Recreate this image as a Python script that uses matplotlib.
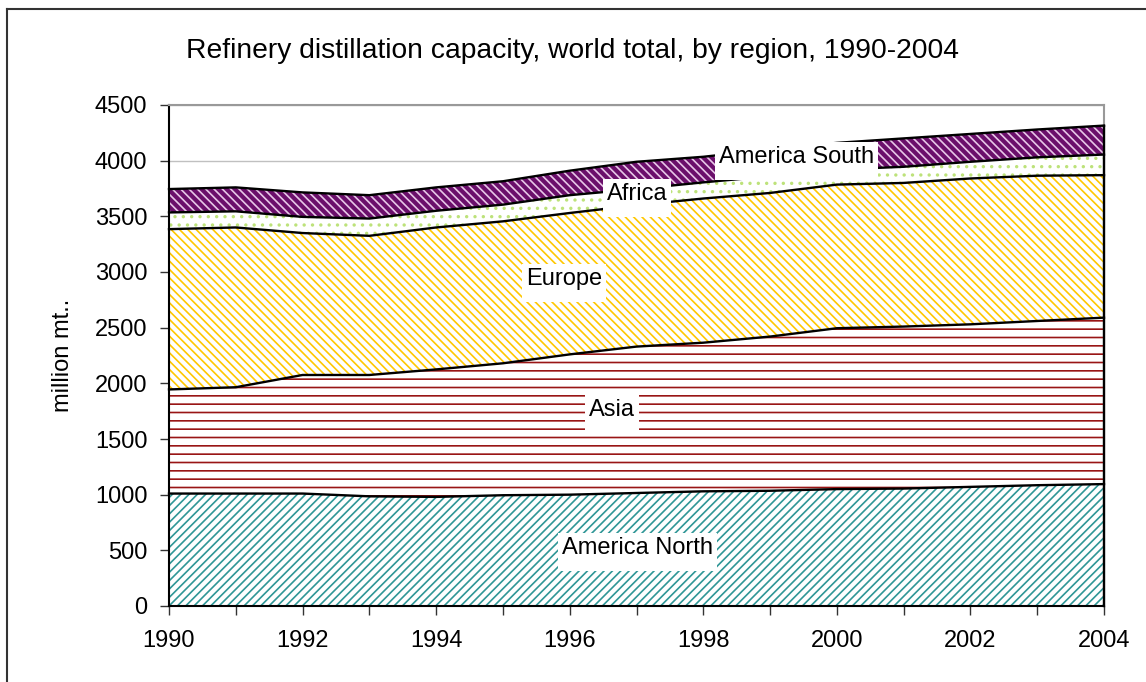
import matplotlib
matplotlib.use('Agg')
import matplotlib.pyplot as plt
import numpy as np
from matplotlib.patches import Rectangle
from matplotlib.lines import Line2D

plt.rcParams['font.family'] = ['Liberation Sans', 'DejaVu Sans']
plt.rcParams['hatch.linewidth'] = 1.2

# ---- data (million mt.) ----
years = list(range(1990, 2005))
america_north = [1010, 1010, 1010, 985, 980, 995, 1000, 1015, 1030, 1035, 1050, 1055, 1070, 1085, 1095]
asia = [935, 955, 1065, 1090, 1145, 1185, 1260, 1315, 1335, 1385, 1445, 1455, 1460, 1475, 1495]
europe = [1440, 1435, 1275, 1250, 1275, 1275, 1270, 1270, 1295, 1290, 1290, 1290, 1310, 1305, 1280]
africa = [150, 145, 145, 155, 150, 150, 160, 145, 145, 150, 135, 145, 150, 165, 185]
america_south = [210, 215, 220, 210, 210, 210, 220, 245, 230, 240, 240, 255, 250, 250, 260]

region_names = ['America North', 'Asia', 'Europe', 'Africa', 'America South']
label_x = [1997.02, 1996.63, 1995.91, 1997.01, 1999.40]
label_y = [521, 1760, 2937, 3700, 4033]

title = 'Refinery distillation capacity, world total, by region, 1990-2004'
ylabel = 'million mt..'
y_ticks = [0, 500, 1000, 1500, 2000, 2500, 3000, 3500, 4000, 4500]
x_major = [1990, 1992, 1994, 1996, 1998, 2000, 2002, 2004]

# ---- styles ----
face = ['white', 'white', 'white', 'white', '#6B0F6B']
hatch_col = ['#2F9696', '#991515', '#FFC800', '#BDE27A', '#E8C8E8']
hatches = ['////', '--', '\\\\\\\\', '..', '\\\\\\\\']

W, H = 1146, 682
fig = plt.figure(figsize=(W / 100, H / 100), dpi=100)
ax = fig.add_axes([169 / W, 1 - 606 / H, (1104 - 169) / W, (606 - 105) / H])

series = [america_north, asia, europe, africa, america_south]
x = np.array(years, dtype=float)
base = np.zeros(len(years))
for vals, fc, hc, ht in zip(series, face, hatch_col, hatches):
    top = base + np.array(vals, dtype=float)
    ax.fill_between(x, base, top, facecolor=fc, edgecolor=hc, hatch=ht,
                    linewidth=0, zorder=1)
    ax.plot(x, top, color='black', lw=1.7, zorder=3, clip_on=False,
            solid_joinstyle='round')
    base = top
ax.plot([x[-1], x[-1]], [0, base[-1]], color='black', lw=1.7, zorder=3, clip_on=False)

ax.set_xlim(1990, 2004)
ax.set_ylim(0, 4500)
ax.set_yticks(y_ticks)
ax.set_xticks(x_major)
ax.set_xticks(years, minor=True)
ax.yaxis.grid(True, color='#c0c0c0', lw=1.0)
ax.set_axisbelow(True)

for s in ['left', 'bottom']:
    ax.spines[s].set_color('black')
    ax.spines[s].set_linewidth(1.5)
for s in ['top', 'right']:
    ax.spines[s].set_color('#999999')
    ax.spines[s].set_linewidth(1.5)

ax.tick_params(axis='y', direction='out', length=6.5, width=1.0, color='#333333',
               labelsize=17, pad=9)
ax.tick_params(axis='x', which='both', direction='out', length=6.5, width=1.0,
               color='#333333', labelsize=17, pad=10.5)
ax.tick_params(axis='x', which='minor', labelbottom=False)

fig.text(0.5, 1 - 51 / H, title, ha='center', va='center', fontsize=20.3)
fig.text(63 / W, 1 - 355 / H, ylabel, ha='center', va='center', rotation=90, fontsize=17)

texts = []
for name, lx, ly in zip(region_names, label_x, label_y):
    t = ax.text(lx, ly, name, ha='center', va='center', fontsize=17, zorder=6)
    texts.append(t)

# figure border (left and top edges visible)
fig.add_artist(Line2D([7 / W, 7 / W], [0, 1 - 9 / H], transform=fig.transFigure,
                      color='#333333', lw=1.5))
fig.add_artist(Line2D([7 / W, 1], [1 - 9 / H, 1 - 9 / H], transform=fig.transFigure,
                      color='#333333', lw=1.5))

fig.canvas.draw()
renderer = fig.canvas.get_renderer()
for t in texts:
    bb = t.get_window_extent(renderer)
    x0, x1 = bb.x0 - 4, bb.x1 + 4
    y0, y1 = bb.y0 - 12, bb.y1 + 4
    rect = Rectangle((x0 / W, y0 / H), (x1 - x0) / W, (y1 - y0) / H,
                     transform=fig.transFigure, facecolor='white', edgecolor='none',
                     zorder=5, clip_on=False)
    ax.add_patch(rect)

fig.savefig('out.png', dpi=100)
